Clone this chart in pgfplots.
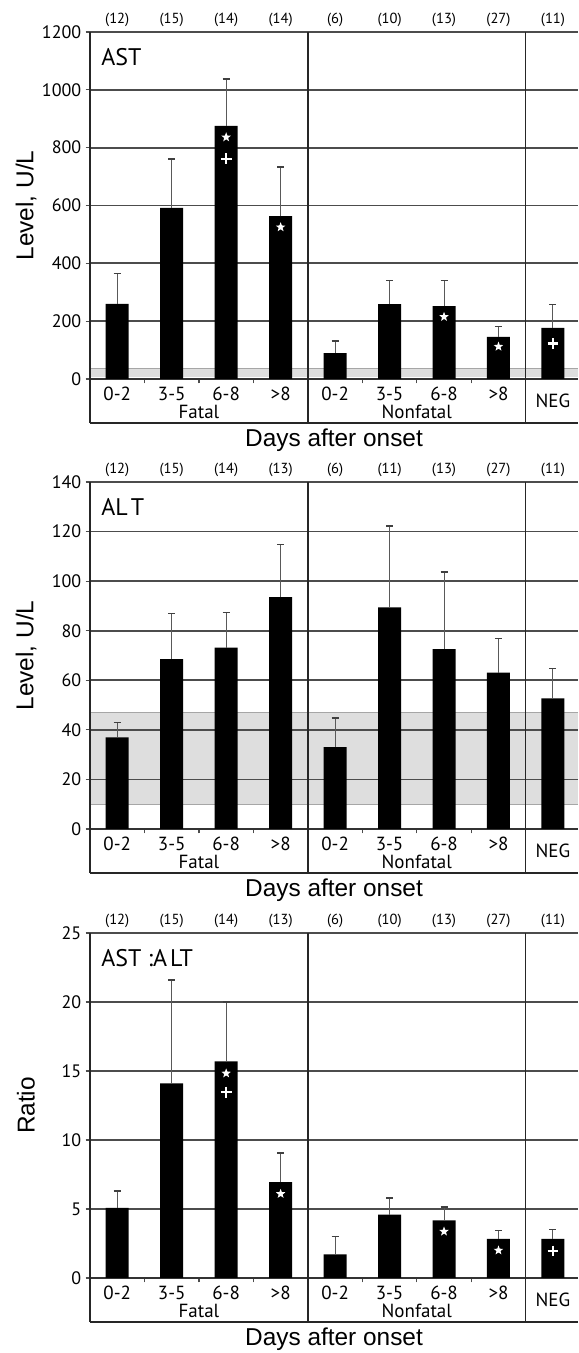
\documentclass[border=0pt]{standalone}
\usepackage{pgfplots}
\pgfplotsset{compat=1.18}
\usepackage{fontspec}
\setmainfont{Liberation Sans}
\newfontfamily\tickfont{PT Sans}

\pgfdeclareplotmark{fstar}{%
  \pgfpathmoveto{\pgfpointpolar{90}{\pgfplotmarksize}}%
  \pgfpathlineto{\pgfpointpolar{126}{0.42\pgfplotmarksize}}%
  \pgfpathlineto{\pgfpointpolar{162}{\pgfplotmarksize}}%
  \pgfpathlineto{\pgfpointpolar{198}{0.42\pgfplotmarksize}}%
  \pgfpathlineto{\pgfpointpolar{234}{\pgfplotmarksize}}%
  \pgfpathlineto{\pgfpointpolar{270}{0.42\pgfplotmarksize}}%
  \pgfpathlineto{\pgfpointpolar{306}{\pgfplotmarksize}}%
  \pgfpathlineto{\pgfpointpolar{342}{0.42\pgfplotmarksize}}%
  \pgfpathlineto{\pgfpointpolar{18}{\pgfplotmarksize}}%
  \pgfpathlineto{\pgfpointpolar{54}{0.42\pgfplotmarksize}}%
  \pgfpathclose\pgfusepathqfill}

\tikzset{
  sepline/.style={line width=0.7pt, black!85},
  catfont/.style={font=\tickfont\fontsize{9.5}{10}\selectfont, inner sep=0pt},
  cntfont/.style={font=\tickfont\fontsize{7.3}{8}\selectfont, inner sep=0pt},
  titlefont/.style={font=\fontsize{12.2}{14}\selectfont, inner sep=0pt},
  panfont/.style={font=\tickfont\fontsize{12}{13}\selectfont, inner sep=0pt, anchor=west},
}

\pgfplotsset{
  panel/.style={
    scale only axis, width=244pt,
    xmin=-0.5, xmax=8.46, ymin=0,
    axis x line*=bottom, axis y line*=left,
    axis line style={line width=0.7pt, black!80},
    set layers, clip=false,
    xtick={0.5,1.5,2.5,4.5,5.5,6.5}, xticklabels={},
    tick align=outside, major tick length=2.2pt,
    tick style={line width=0.6pt, black!70},
    ymajorgrids, grid style={line width=0.9pt, black!70},
    /pgf/number format/assume math mode=true,
    /pgf/number format/1000 sep={},
    yticklabel style={font=\tickfont\fontsize{9}{10}\selectfont, inner sep=2pt},
  },
  bars/.style={ybar, bar width=11.5pt, fill=black, draw=none,
    error bars/.cd, y dir=plus, y explicit,
    error bar style={line width=0.5pt, black!65},
    error mark options={rotate=90, line width=0.8pt, mark size=1.75pt, black!75}},
  stars/.style={only marks, mark=fstar, mark size=2.5pt, white},
  pluses/.style={only marks, mark=+, mark size=2.7pt, white, line width=1.1pt},
}

\newcommand{\panelbox}[1]{%
  \draw[sepline] ([yshift=-22pt]axis cs:-0.5,0) -- (axis cs:-0.5,#1);
  \draw[sepline] ([yshift=-22pt]axis cs:3.5,0) -- (axis cs:3.5,#1);
  \draw[sepline] ([yshift=-22pt]axis cs:7.5,0) -- (axis cs:7.5,#1);
  \draw[sepline] ([yshift=-22pt]axis cs:-0.5,0) -- ([yshift=-22pt]axis cs:8.46,0);
  \node[catfont] at ([yshift=-7.5pt]axis cs:0,0) {0-2};
  \node[catfont] at ([yshift=-7.5pt]axis cs:1,0) {3-5};
  \node[catfont] at ([yshift=-7.5pt]axis cs:2,0) {6-8};
  \node[catfont] at ([yshift=-7.5pt]axis cs:3,0) {>8};
  \node[catfont] at ([yshift=-7.5pt]axis cs:4,0) {0-2};
  \node[catfont] at ([yshift=-7.5pt]axis cs:5,0) {3-5};
  \node[catfont] at ([yshift=-7.5pt]axis cs:6,0) {6-8};
  \node[catfont] at ([yshift=-7.5pt]axis cs:7,0) {>8};
  \node[catfont] at ([yshift=-11pt]axis cs:8,0) {NEG};
  \node[catfont] at ([yshift=-16.5pt]axis cs:1.5,0) {Fatal};
  \node[catfont] at ([yshift=-16.5pt]axis cs:5.5,0) {Nonfatal};
  \node[titlefont] at ([yshift=-30.5pt]axis cs:3.98,0) {Days after onset};
}
\newcommand{\cnt}[3]{\node[cntfont] at ([yshift=6pt]axis cs:#1,#2) {(#3)};}

\begin{document}
\begin{tikzpicture}

% ---------------- AST ----------------
\begin{axis}[panel, at={(45pt,487pt)}, anchor=south west, height=173.5pt,
  ymax=1200, ytick={0,200,...,1200}]
\begin{pgfonlayer}{axis background}
\fill[black!13] (axis cs:-0.5,8) rectangle (axis cs:8.46,37);
\draw[black!35, line width=0.4pt] (axis cs:-0.5,37) -- (axis cs:8.46,37);
\end{pgfonlayer}
\addplot[bars] coordinates {
 (0,260) +- (0,105)
 (1,592) +- (0,169)
 (2,875) +- (0,162)
 (3,563) +- (0,171)
 (4,89)  +- (0,42)
 (5,259) +- (0,81)
 (6,252) +- (0,88)
 (7,146) +- (0,35)
 (8,177) +- (0,81)
};
\addplot[stars] coordinates {(2,836) (3,525) (6,215) (7,112)};
\addplot[pluses] coordinates {(2,762) (8,123)};
\panelbox{1200}
\cnt{0}{1200}{12}\cnt{1}{1200}{15}\cnt{2}{1200}{14}\cnt{3}{1200}{14}
\cnt{4}{1200}{6}\cnt{5}{1200}{10}\cnt{6}{1200}{13}\cnt{7}{1200}{27}\cnt{8}{1200}{11}
\node[panfont] at ([xshift=5.5pt,yshift=-12.5pt]rel axis cs:0,1) {AST};
\node[rotate=90, titlefont] at ([xshift=-32pt]rel axis cs:0,0.5) {Level, U/L};
\end{axis}

% ---------------- ALT ----------------
\begin{axis}[panel, at={(45pt,262pt)}, anchor=south west, height=173.5pt,
  ymax=140, ytick={0,20,...,140}]
\begin{pgfonlayer}{axis background}
\fill[black!13] (axis cs:-0.5,10) rectangle (axis cs:8.46,47);
\draw[black!35, line width=0.4pt] (axis cs:-0.5,10) -- (axis cs:8.46,10);
\draw[black!35, line width=0.4pt] (axis cs:-0.5,47) -- (axis cs:8.46,47);
\end{pgfonlayer}
\addplot[bars] coordinates {
 (0,37)   +- (0,6)
 (1,68.5) +- (0,18.5)
 (2,73.2) +- (0,14.2)
 (3,93.5) +- (0,21.2)
 (4,33)   +- (0,11.7)
 (5,89.4) +- (0,32.9)
 (6,72.6) +- (0,31.2)
 (7,63.1) +- (0,13.8)
 (8,52.7) +- (0,12.1)
};
\panelbox{140}
\cnt{0}{140}{12}\cnt{1}{140}{15}\cnt{2}{140}{14}\cnt{3}{140}{13}
\cnt{4}{140}{6}\cnt{5}{140}{11}\cnt{6}{140}{13}\cnt{7}{140}{27}\cnt{8}{140}{11}
\node[panfont] at ([xshift=5.5pt,yshift=-12.5pt]rel axis cs:0,1) {AL\hspace{1.5pt}T};
\node[rotate=90, titlefont] at ([xshift=-32pt]rel axis cs:0,0.5) {Level, U/L};
\end{axis}

% ---------------- AST:ALT ----------------
\begin{axis}[panel, at={(45pt,37.5pt)}, anchor=south west, height=172.5pt,
  ymax=25, ytick={0,5,...,25}]
\addplot[bars] coordinates {
 (0,5.08) +- (0,1.21)
 (1,14.1) +- (0,7.5)
 (2,15.7) +- (0,4.3)
 (3,6.94) +- (0,2.12)
 (4,1.71) +- (0,1.3)
 (5,4.6)  +- (0,1.2)
 (6,4.17) +- (0,0.96)
 (7,2.84) +- (0,0.61)
 (8,2.84) +- (0,0.68)
};
\addplot[stars] coordinates {(2,14.83) (3,6.1) (6,3.37) (7,2.0)};
\addplot[pluses] coordinates {(2,13.47) (8,1.95)};
\panelbox{25}
\cnt{0}{25}{12}\cnt{1}{25}{15}\cnt{2}{25}{14}\cnt{3}{25}{13}
\cnt{4}{25}{6}\cnt{5}{25}{10}\cnt{6}{25}{13}\cnt{7}{25}{27}\cnt{8}{25}{11}
\node[panfont] at ([xshift=5.5pt,yshift=-12.5pt]rel axis cs:0,1) {AST :A\hspace{1.5pt}LT};
\node[rotate=90, titlefont] at ([xshift=-32pt]rel axis cs:0,0.5) {Ratio};
\end{axis}

\pgfresetboundingbox
\useasboundingbox (0,0) rectangle (289pt,676.5pt);
\end{tikzpicture}
\end{document}
